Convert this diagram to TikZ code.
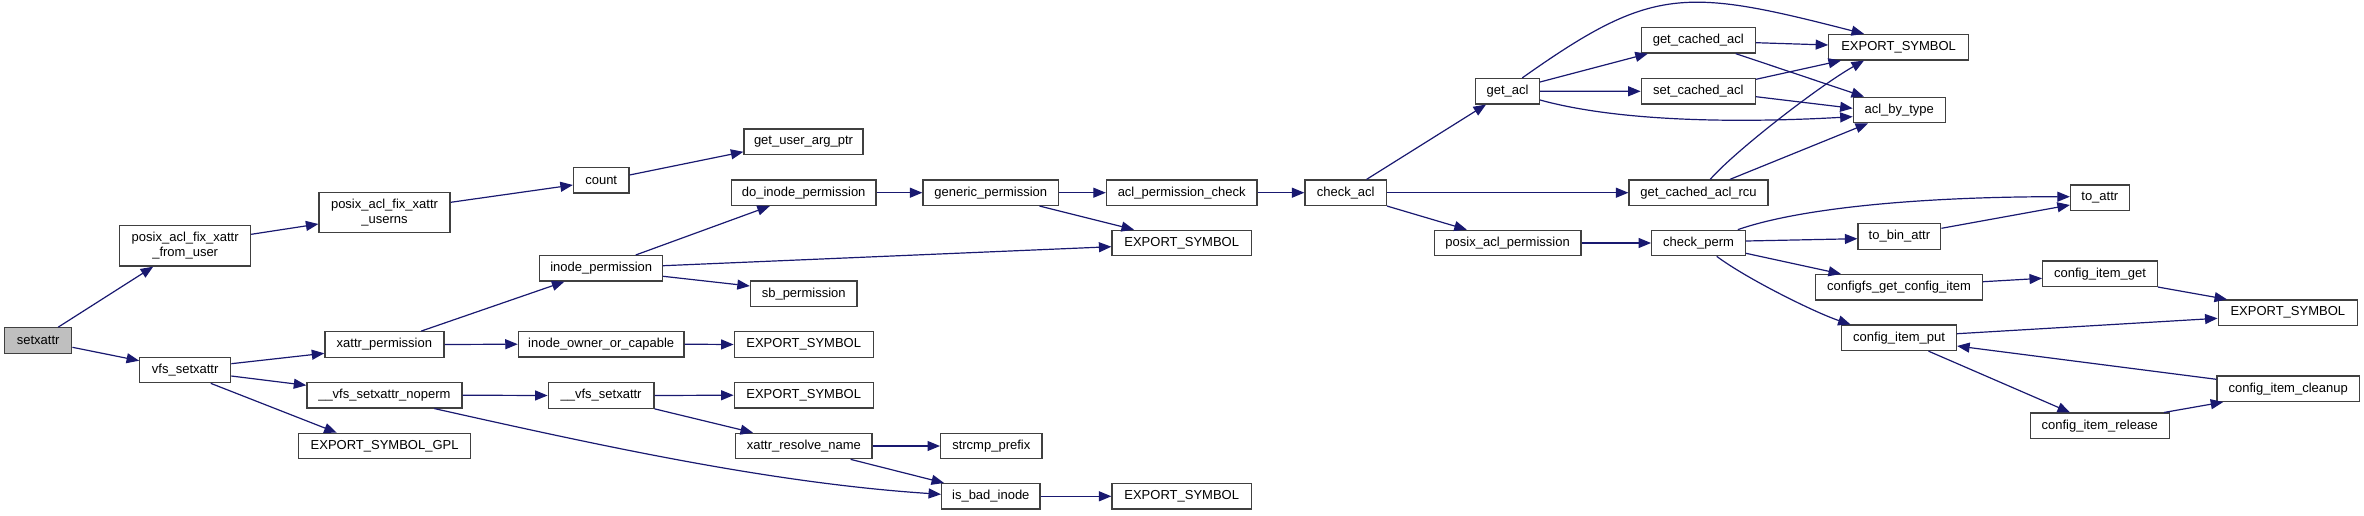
\documentclass[tikz,border=0pt]{standalone}
\usepackage{fontspec}
\setmainfont{Liberation Sans}
\usetikzlibrary{arrows.meta}
\definecolor{edgeblue}{HTML}{191970}
\definecolor{boxgray}{HTML}{404040}
\definecolor{selgray}{HTML}{BFBFBF}
\begin{document}
\begin{tikzpicture}[x=1pt,y=-1pt,
  box/.style={draw=boxgray, line width=1.2pt, fill=white, minimum height=25.5pt, inner sep=0pt,
    font=\fontsize{13}{14.7}\selectfont, align=center},
  edge/.style={draw=edgeblue, line width=1.2pt, -{Triangle[length=12.5pt,width=10pt]}}]
\useasboundingbox (0,0) rectangle (2364,515);
\node[box,minimum width=67.3pt,fill=selgray] (setxattr) at (38.2,340.5) {setxattr};
\node[box,minimum width=130.8pt,minimum height=40.3pt] (pafxfu) at (185.2,245.9) {posix\_acl\_fix\_xattr\\\_from\_user};
\node[box,minimum width=131pt,minimum height=39.6pt] (userns) at (384.5,212.5) {posix\_acl\_fix\_xattr\\\_userns};
\node[box,minimum width=91pt] (vfs) at (185.2,370) {vfs\_setxattr};
\node[box,minimum width=119pt] (xperm) at (384.4,344.5) {xattr\_permission};
\node[box,minimum width=155pt] (noperm) at (384.4,395.2) {\_\_vfs\_setxattr\_noperm};
\node[box,minimum width=172.2pt] (esgpl) at (384.6,446) {EXPORT\_SYMBOL\_GPL};
\node[box,minimum width=55.5pt] (count) at (601.2,180.3) {count};
\node[box,minimum width=119pt] (guap) at (803.5,141.8) {get\_user\_arg\_ptr};
\node[box,minimum width=144.5pt] (dip) at (803.7,192.7) {do\_inode\_permission};
\node[box,minimum width=135.7pt] (gp) at (990.8,192.7) {generic\_permission};
\node[box,minimum width=122.8pt] (ip) at (601.2,268.3) {inode\_permission};
\node[box,minimum width=106.6pt] (sb) at (803.7,293.8) {sb\_permission};
\node[box,minimum width=165.7pt] (ioc) at (601.2,344.2) {inode\_owner\_or\_capable};
\node[box,minimum width=139pt] (esioc) at (803.7,344.5) {EXPORT\_SYMBOL};
\node[box,minimum width=105.8pt] (vfs2) at (601.1,395.5) {\_\_vfs\_setxattr};
\node[box,minimum width=139pt] (esvfs) at (803.7,395.2) {EXPORT\_SYMBOL};
\node[box,minimum width=136.2pt] (xrn) at (803.9,446) {xattr\_resolve\_name};
\node[box,minimum width=101.4pt] (scp) at (991.3,446) {strcmp\_prefix};
\node[box,minimum width=98.3pt] (ibi) at (990.8,496.3) {is\_bad\_inode};
\node[box,minimum width=139.4pt] (esbad) at (1181.7,496.3) {EXPORT\_SYMBOL};
\node[box,minimum width=139.4pt] (esip) at (1181.7,243) {EXPORT\_SYMBOL};
\node[box,minimum width=150.6pt] (apc) at (1181.7,192.7) {acl\_permission\_check};
\node[box,minimum width=81.5pt] (ca) at (1345.7,192.7) {check\_acl};
\node[box,minimum width=63.9pt] (ga) at (1507.5,91.2) {get\_acl};
\node[box,minimum width=146.7pt] (pap) at (1507.6,243) {posix\_acl\_permission};
\node[box,minimum width=114.1pt] (gca) at (1698.3,40.3) {get\_cached\_acl};
\node[box,minimum width=114.1pt] (sca) at (1698.3,91.3) {set\_cached\_acl};
\node[box,minimum width=139.7pt] (esacl) at (1898.6,47.2) {EXPORT\_SYMBOL};
\node[box,minimum width=91.9pt] (abt) at (1899.2,110) {acl\_by\_type};
\node[box,minimum width=139pt] (gcar) at (1698.5,192.7) {get\_cached\_acl\_rcu};
\node[box,minimum width=58.7pt] (toattr) at (2099.8,197.8) {to\_attr};
\node[box,minimum width=93.7pt] (cp) at (1698.5,243) {check\_perm};
\node[box,minimum width=82.8pt] (tba) at (1899.4,236.5) {to\_bin\_attr};
\node[box,minimum width=166.8pt] (cgci) at (1899.1,287.3) {configfs\_get\_config\_item};
\node[box,minimum width=114.8pt] (cig) at (2100,273.7) {config\_item\_get};
\node[box,minimum width=139.3pt] (escfg) at (2287.8,312.7) {EXPORT\_SYMBOL};
\node[box,minimum width=114.8pt] (cip) at (1899.1,337.8) {config\_item\_put};
\node[box,minimum width=142.4pt] (cic) at (2288.2,388.7) {config\_item\_cleanup};
\node[box,minimum width=138.9pt] (cir) at (2099.8,425.8) {config\_item\_release};

\draw[edge] ([xshift=20pt]setxattr.north) -- ([xshift=-32pt]pafxfu.south);
\draw[edge] ([yshift=-6.8pt]setxattr.east) -- ([yshift=9.3pt]vfs.west);
\draw[edge] ([yshift=11.6pt]pafxfu.east) -- ([yshift=-11.5pt]userns.west);
\draw[edge] ([yshift=10.2pt]userns.east) -- ([yshift=-4.7pt]count.west);
\draw[edge] ([yshift=5.3pt]count.east) -- ([yshift=-10pt]guap.west);
\draw[edge] ([yshift=6.3pt]vfs.east) -- ([yshift=-8.8pt]xperm.west);
\draw[edge] ([yshift=-6pt]vfs.east) -- ([yshift=9.9pt]noperm.west);
\draw[edge] ([xshift=25.6pt]vfs.south) -- ([xshift=-47.9pt]esgpl.north);
\draw[edge] ([xshift=36.6pt]xperm.north) -- ([xshift=-36.8pt]ip.south);
\draw[edge] (xperm.east) -- (ioc.west);
\draw[edge] (noperm.east) -- (vfs2.west);
\draw[edge] ([xshift=49.9pt]noperm.south) .. controls (604,446.6) and (772,483.1) .. ([yshift=2pt]ibi.west);
\draw[edge] ([xshift=34.6pt]ip.north) -- ([xshift=-33.9pt]dip.south);
\draw[edge] ([yshift=2.6pt]ip.east) -- ([yshift=-3.7pt]esip.west);
\draw[edge] ([yshift=-8pt]ip.east) -- ([yshift=7.8pt]sb.west);
\draw[edge] (dip.east) -- (gp.west);
\draw[edge] (gp.east) -- (apc.west);
\draw[edge] ([xshift=48.7pt]gp.south) -- ([xshift=-47.7pt]esip.north);
\draw[edge] (apc.east) -- (ca.west);
\draw[edge] ([xshift=20.9pt]ca.north) -- ([xshift=-21.5pt]ga.south);
\draw[edge] (ca.east) -- (gcar.west);
\draw[edge] (ca.south east) -- ([xshift=-40.8pt]pap.north);
\draw[edge] ([yshift=9.2pt]ga.east) -- ([xshift=-50.5pt]gca.south);
\draw[edge] (ga.east) -- (sca.west);
\draw[edge] ([xshift=14.8pt]ga.north) .. controls (1652,-14) and (1684,-12.5) .. ([xshift=-34.6pt]esacl.north);
\draw[edge] ([yshift=-8.8pt]ga.east) .. controls (1620,122) and (1740,123) .. ([yshift=-6.7pt]abt.west);
\draw[edge] ([yshift=-2.4pt]gca.east) -- ([yshift=2.2pt]esacl.west);
\draw[edge] ([xshift=37.5pt]gca.south) -- ([xshift=-35.2pt]abt.north);
\draw[edge] ([yshift=12pt]sca.east) -- ([xshift=-57.6pt]esacl.south);
\draw[edge] ([yshift=-5.4pt]sca.east) -- ([yshift=1.7pt]abt.west);
\draw[edge] ([xshift=11.7pt]gcar.north) .. controls (1735,151) and (1819,86) .. ([xshift=-34.6pt]esacl.south);
\draw[edge] ([xshift=31.5pt]gcar.north) -- ([xshift=-31.2pt]abt.south);
\draw[edge] (pap.east) -- (cp.west);
\draw[edge] ([xshift=39.3pt]cp.north) .. controls (1800,208) and (1920,196.7) .. ([yshift=1.1pt]toattr.west);
\draw[edge] ([yshift=2pt]cp.east) -- ([yshift=-2.2pt]tba.west);
\draw[edge] ([yshift=-10.3pt]cp.east) -- ([xshift=-58.1pt]cgci.north);
\draw[edge] ([xshift=18.2pt]cp.south) .. controls (1747,279) and (1816,313) .. ([xshift=-48.5pt]cip.north);
\draw[edge] ([yshift=8.2pt]tba.east) -- ([yshift=-7.2pt]toattr.west);
\draw[edge] ([yshift=5.6pt]cgci.east) -- ([yshift=-4.6pt]cig.west);
\draw[edge] (cig.south east) -- ([xshift=-60.8pt]escfg.north);
\draw[edge] ([yshift=4.1pt]cip.east) -- ([yshift=-5.6pt]escfg.west);
\draw[edge] ([xshift=29.4pt]cip.south) -- ([xshift=-29.8pt]cir.north);
\draw[edge] ([xshift=64.2pt]cir.north) -- ([xshift=-65pt]cic.south);
\draw[edge] ([yshift=9.4pt]cic.west) -- ([yshift=-8.2pt]cip.east);
\draw[edge] (xrn.east) -- (scp.west);
\draw[edge] ([xshift=46.7pt]xrn.south) -- ([xshift=3pt]ibi.north west);
\draw[edge] (vfs2.east) -- (esvfs.west);
\draw[edge] (vfs2.south east) -- ([xshift=-50.9pt]xrn.north);
\draw[edge] (ibi.east) -- (esbad.west);
\draw[edge] (ioc.east) -- (esioc.west);
\end{tikzpicture}
\end{document}
